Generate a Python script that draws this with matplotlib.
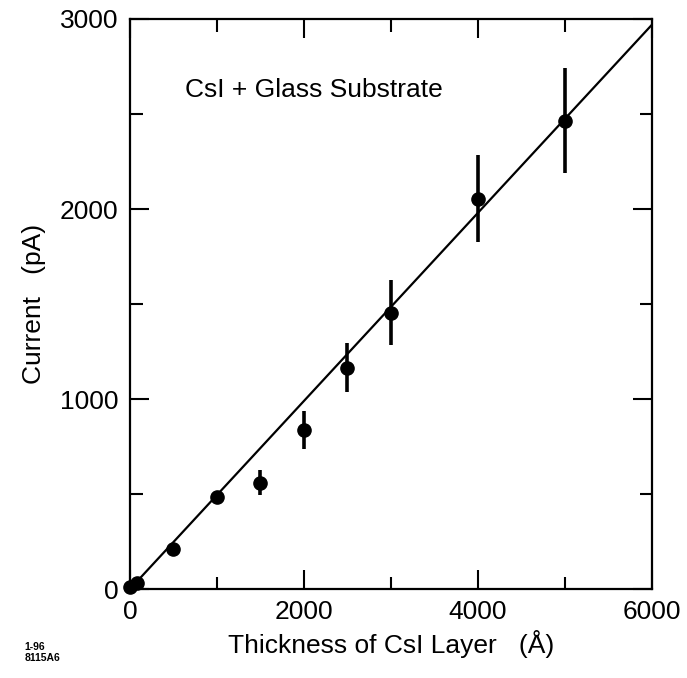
import matplotlib
matplotlib.use("Agg")
import matplotlib.pyplot as plt
from matplotlib.ticker import MultipleLocator

plt.rcParams['font.family'] = ['Liberation Sans', 'DejaVu Sans']

# 读图得到的数据点
thickness = [0, 80, 500, 1000, 1500, 2000, 2500, 3000, 4000, 5000]
current = [10, 35, 210, 485, 560, 840, 1165, 1455, 2055, 2465]
current_err = [0, 0, 0, 0, 65, 100, 130, 170, 230, 275]

# 拟合直线
fit_x = [0, 6100]
fit_slope = 0.495

fig = plt.figure(figsize=(6.87, 6.78), dpi=100)
ax = fig.add_axes([0.189, 0.131, 0.760, 0.841])

ax.plot(fit_x, [fit_slope * x for x in fit_x], color='black', lw=1.6, zorder=2)
ax.errorbar(thickness, current, yerr=current_err, fmt='o', color='black',
            ms=9.5, elinewidth=2.6, capsize=0, zorder=3, clip_on=False)

ax.set_xlim(0, 6000)
ax.set_ylim(0, 3000)
ax.xaxis.set_major_locator(MultipleLocator(2000))
ax.xaxis.set_minor_locator(MultipleLocator(1000))
ax.yaxis.set_major_locator(MultipleLocator(1000))
ax.yaxis.set_minor_locator(MultipleLocator(500))
ax.tick_params(which='both', direction='in', top=True, right=True,
               width=1.5, labelsize=19, pad=8)
ax.tick_params(which='major', length=14)
ax.tick_params(which='minor', length=9)
for s in ax.spines.values():
    s.set_linewidth(1.6)

ax.set_xlabel('Thickness of CsI Layer   (Å)', fontsize=19, labelpad=4)
ax.set_ylabel('Current   (pA)', fontsize=19, labelpad=10)

ax.text(0.105, 0.875, 'CsI + Glass Substrate', transform=ax.transAxes,
        fontsize=19, ha='left', va='center')

fig.text(0.036, 0.038, '1-96\n8115A6', fontsize=7.5, fontweight='bold',
         ha='left', va='center', linespacing=1.1)

fig.savefig('out.png', dpi=100)
